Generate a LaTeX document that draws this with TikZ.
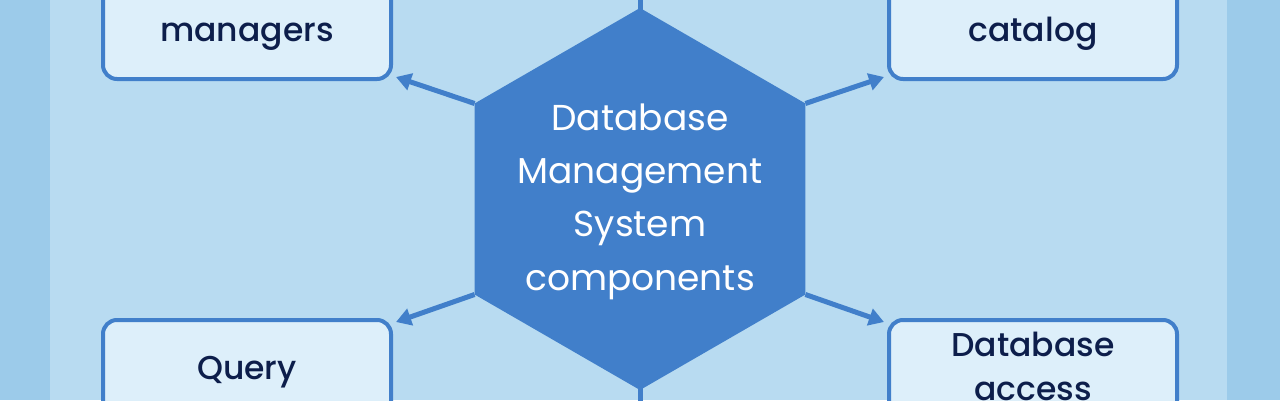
\documentclass[tikz,border=0pt]{standalone}
\usepackage{fontspec}
\setmainfont{Poppins}
\newfontfamily\medfont{Poppins Medium}
\usetikzlibrary{shapes.geometric,arrows.meta}
\definecolor{edgeblue}{HTML}{9CCBEA}
\definecolor{panelblue}{HTML}{B8DBF1}
\definecolor{boxfill}{HTML}{DDEFFA}
\definecolor{hexblue}{HTML}{417FCA}
\definecolor{navy}{HTML}{0D1E4B}
\begin{document}
\begin{tikzpicture}[x=1pt,y=1pt,
		compbox/.style={draw=hexblue,line width=4pt,fill=boxfill,rounded corners=14pt,minimum width=288pt,minimum height=150pt,inner sep=0pt},
		boxtext/.style={text=navy,font=\medfont\fontsize{33}{44}\selectfont,align=center,inner sep=0pt},
		link/.style={draw=hexblue,line width=5pt,-{Triangle[length=15pt,width=17pt]}},
		spine/.style={draw=hexblue,line width=5pt}]
	\useasboundingbox (0,0) rectangle (1280,400);
	\clip (0,0) rectangle (1280,400);
	\fill[edgeblue] (0,0) rectangle (1280,400);
	\fill[panelblue] (50,0) rectangle (1227,400);
	\coordinate (topend) at (640,410);
	\coordinate (botend) at (640,-10);
	\draw[spine] (640,201) -- (topend);
	\draw[spine] (640,201) -- (botend);
	\node[regular polygon,regular polygon sides=6,shape border rotate=30,minimum size=382pt,inner sep=0pt,outer sep=0pt,fill=hexblue] (dbms) at (640,201) {};
	\node[text=white,align=center,inner sep=0pt,font=\fontsize{36}{53.3}\selectfont,anchor=base] (dbmstxt) at (640,110) {Database\\Management\\System\\components};
	\node[compbox,anchor=south] (mgr) at (247,319) {};
	\node[compbox,anchor=south] (cat) at (1033,319) {};
	\node[compbox,anchor=north] (qry) at (247,82) {};
	\node[compbox,anchor=north] (acc) at (1033,82) {};
	\node[boxtext,anchor=base] (mgrtxt) at (247,359) {managers};
	\node[boxtext,anchor=base] (cattxt) at (1033,359) {catalog};
	\node[boxtext,anchor=base] (qrytxt) at (247,20.5) {Query};
	\node[boxtext,anchor=base] (acctxt) at (1033,-0.7) {Database\\access};
	\foreach \ang/\tgt/\corner/\dx/\dy in {150/mgr/south east/3/4,30/cat/south west/-3/4,210/qry/north east/3/-4,330/acc/north west/-3/-4}
		\draw[link] (dbms.\ang) -- ([shift={(\dx,\dy)}]\tgt.\corner);
\end{tikzpicture}
\end{document}
